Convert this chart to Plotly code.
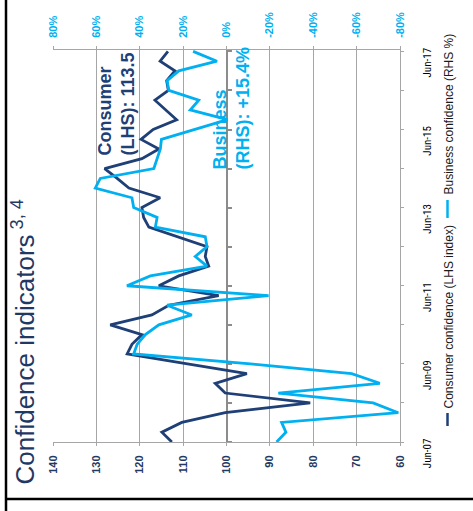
import plotly.graph_objects as go
import pandas as pd

# ---- data (quarterly, Jun-07 .. Jun-17) ----
dates = pd.date_range("2007-06-01", periods=41, freq="3MS")
consumer = [112.6, 114.9, 110.3, 100.3, 80.7, 100.3, 102.6, 95.3, 109.0, 122.9,
            121.8, 119.5, 126.8, 117.2, 113.3, 101.8, 115.6, 111.0, 104.1, 104.9,
            104.5, 111.0, 117.9, 119.1, 119.5, 115.3, 122.5, 125.2, 128.1, 119.5,
            115.6, 119.7, 116.9, 111.5, 114.0, 116.5, 113.4, 113.8, 111.9, 115.3,
            113.5]
business = [-23.1, -27.4, -25.4, -79.2, -67.6, -23.9, -70.7, -57.7, -11.0, 42.8,
            41.2, 37.4, 31.2, 16.0, 27.4, -19.4, 45.9, 35.1, 9.0, 14.4,
            9.0, 9.8, 32.8, 32.0, 42.8, 43.6, 60.5, 58.2, 33.5, 32.0,
            30.5, 30.0, 15.0, -0.5, 16.7, 12.8, 26.6, 27.4, 22.0, 4.4,
            15.4]
lhs_ticks = [140, 130, 120, 110, 100, 90, 80, 70, 60]
rhs_ticks = [80, 60, 40, 20, 0, -20, -40, -60, -80]
rhs_text = ["80%", "60%", "40%", "20%", "0%", "-20%", "-40%", "-60%", "-80%"]
label_ticks = ["2007-06-01", "2009-06-01", "2011-06-01", "2013-06-01", "2015-06-01", "2017-06-01"]
label_text = ["Jun-07", "Jun-09", "Jun-11", "Jun-13", "Jun-15", "Jun-17"]
year_ticks = [f"{y}-06-01" for y in range(2007, 2018)]
date_range = ["2007-06-01", "2017-06-23"]

C_DARK = "#1F3F77"
C_LIGHT = "#00B0F0"
GRID = "#A6A6A6"
FONT = "Liberation Sans, Arial, sans-serif"
NARROW = "Liberation Sans Narrow, Arial Narrow, Roboto Condensed, Liberation Sans, sans-serif"

W, H = 473, 511
ML, MR, MT, MB = 53, 73, 49, 69
PW, PH = W - ML - MR, H - MT - MB


def px(x):
    return (x - ML) / PW


def py(y):
    return (H - MB - y) / PH


fig = go.Figure()
fig.add_trace(go.Scatter(x=consumer, y=dates, mode="lines", xaxis="x", yaxis="y",
                         line=dict(color=C_DARK, width=2.8), showlegend=False))
fig.add_trace(go.Scatter(x=business, y=dates, mode="lines", xaxis="x2", yaxis="y2",
                         line=dict(color=C_LIGHT, width=2.8), showlegend=False))

fig.update_layout(
    width=W, height=H, margin=dict(l=ML, r=MR, t=MT, b=MB),
    paper_bgcolor="white", plot_bgcolor="white", showlegend=False,
    font=dict(family=FONT),
    xaxis=dict(range=[140, 60], tickvals=lhs_ticks, tickangle=-90,
               tickfont=dict(size=11, color="#1F3864", weight="bold"),
               showgrid=True, gridcolor=GRID, gridwidth=1, zeroline=False,
               showline=True, linecolor=GRID, ticks="outside", ticklen=3,
               tickcolor=GRID, ticklabelstandoff=5, automargin=False),
    xaxis2=dict(range=[80, -80], tickvals=rhs_ticks, ticktext=rhs_text, tickangle=-90,
                overlaying="x", side="top", anchor="free", position=1,
                tickfont=dict(size=11, color=C_LIGHT, weight="bold"),
                showgrid=False, zeroline=False, showline=True, linecolor=GRID,
                ticks="outside", ticklen=3, tickcolor=GRID, ticklabelstandoff=6,
                automargin=False),
    yaxis=dict(type="date", range=date_range, side="right", tickvals=label_ticks,
               ticktext=label_text, tickangle=-90,
               tickfont=dict(size=11, color="#000000", family=NARROW),
               ticklabelshift=13, ticklabelstandoff=14,
               minor=dict(tickvals=year_ticks, ticks="outside", ticklen=3,
                          tickcolor=GRID, showgrid=False),
               showgrid=False, zeroline=False, showline=True, linecolor=GRID,
               ticks="outside", ticklen=3, tickcolor=GRID, automargin=False),
    yaxis2=dict(type="date", range=date_range, overlaying="y", anchor="free",
                position=0.5, side="right", tickvals=year_ticks,
                showticklabels=False, showgrid=False, zeroline=False,
                showline=True, linecolor="#8C8C8C", linewidth=2,
                ticks="outside", ticklen=4, tickcolor="#8C8C8C", tickwidth=1.5,
                layer="below traces", automargin=False),
)

annots = [
    dict(text="Confidence indicators<sup> 3, 4</sup>", x=px(24), y=py(487),
         font=dict(size=26, color="#1F3864")),
    dict(text="<b>Consumer<br>(LHS): 113.5</b>", x=px(116), y=py(158),
         font=dict(size=18, color=C_DARK), align="left"),
    dict(text="<b>Business<br>(RHS): +15.4%</b>", x=px(231), y=py(172),
         font=dict(size=18, color=C_LIGHT), align="left"),
    dict(text="Consumer confidence (LHS index)", x=px(448), y=py(411),
         font=dict(size=12, color="#1a1a1a")),
    dict(text="Business confidence (RHS %)", x=px(448), y=py(197),
         font=dict(size=12, color="#1a1a1a")),
]
for a in annots:
    fig.add_annotation(xref="paper", yref="paper", xanchor="center", yanchor="bottom",
                       textangle=-90, showarrow=False, **a)

shapes = [
    dict(x0=px(447.5), x1=px(447.5), y0=py(426), y1=py(413), line=dict(color=C_DARK, width=2.5)),
    dict(x0=px(447.5), x1=px(447.5), y0=py(218), y1=py(200), line=dict(color=C_LIGHT, width=2.5)),
    dict(x0=px(6), x1=px(6), y0=py(0), y1=py(511), line=dict(color="black", width=2.5)),
    dict(x0=px(5), x1=px(473), y0=py(499), y1=py(499), line=dict(color="black", width=2.5)),
]
for s in shapes:
    fig.add_shape(type="line", xref="paper", yref="paper", **s)

fig.write_html("out.html")
